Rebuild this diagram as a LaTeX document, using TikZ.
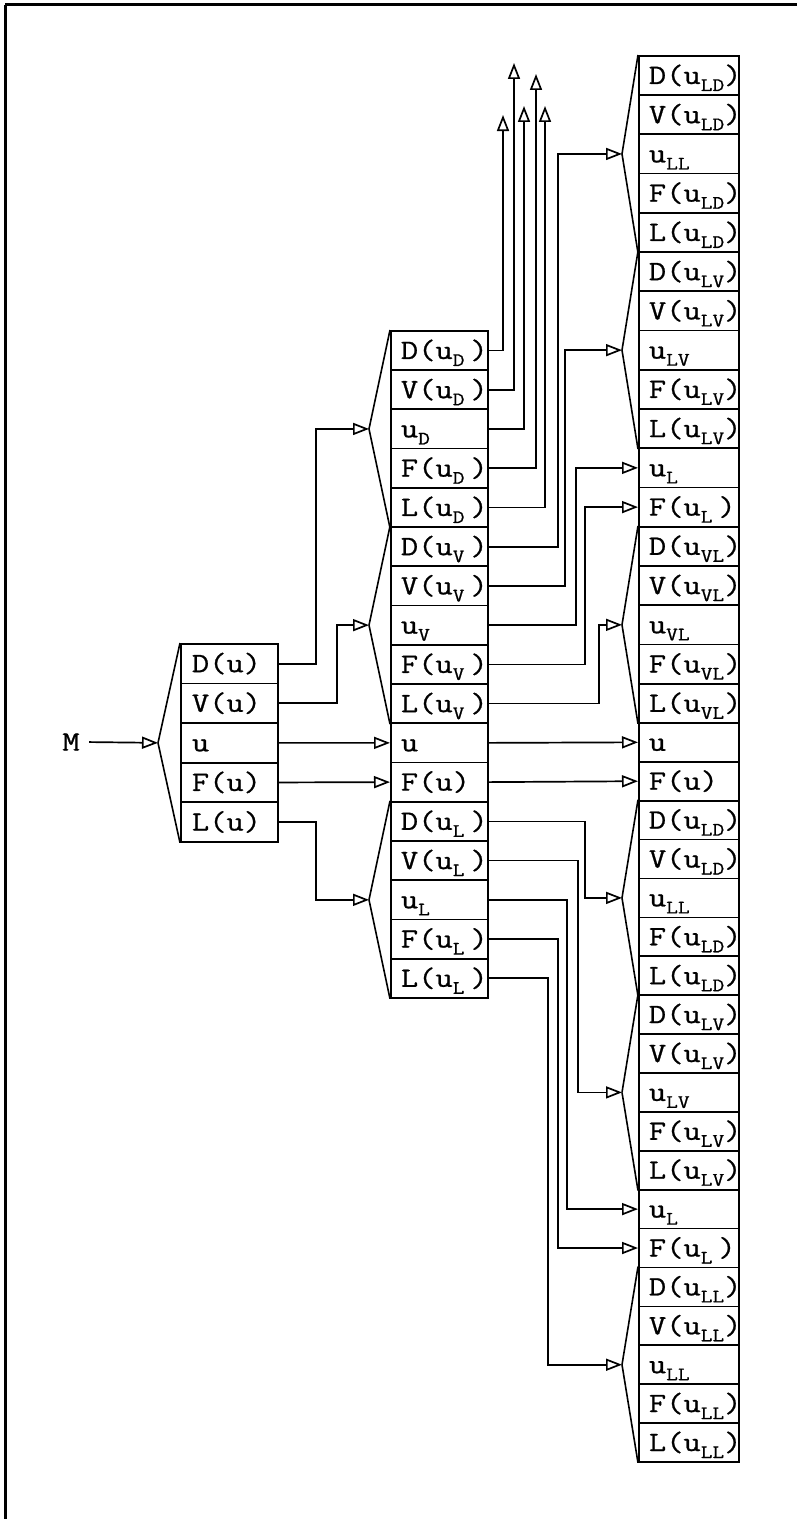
\documentclass[tikz,border=0pt]{standalone}
\usepackage{fontspec}
\newfontfamily\typew[FakeStretch=1.2,FakeBold=0.8]{Latin Modern Mono}
\usetikzlibrary{arrows.meta}
\newcommand\sbs[1]{\raisebox{-7bp}{\fontsize{19bp}{19bp}\selectfont #1}}
\newcommand\gap{\kern6bp}
\begin{document}
\begin{tikzpicture}[x=1bp,y=-1bp,
  every node/.style={font=\typew\fontsize{28bp}{28bp}\selectfont},
  rowbox/.style={draw, line width=1.7bp, rectangle, anchor=north west,
    inner ysep=0pt, text height=17bp, text depth=0bp, align=left},
  colone/.style={rowbox, minimum width=97bp, minimum height=39.6bp, text width=75bp, inner xsep=11bp},
  coltwo/.style={rowbox, minimum width=97bp, minimum height=39.24bp, text width=77bp, inner xsep=10bp},
  colthree/.style={rowbox, minimum width=100bp, minimum height=39.1bp, text width=80bp, inner xsep=10bp},
  arr/.style={-{Triangle[open,length=16bp,width=12bp]}, line width=1.7bp},
  fan/.style={line width=1.6bp},
  frame/.style={line width=3bp}]
\useasboundingbox (0,0) rectangle (797,1519);
\draw[frame] (5,5) -- (797,5);
\draw[frame] (5,5) -- (5,1519);

% column 1
\foreach \t [count=\i from 0] in {D(u),V(u),u,F(u),L(u)}
  \node[colone] (a\i) at (180,{643+\i*39.6}) {\t};

% column 2
\foreach \t [count=\i from 0] in {
  {D(u\sbs{D}\gap)},{V(u\sbs{D}\gap)},{u\sbs{D}},{F(u\sbs{D}\gap)},{L(u\sbs{D}\gap)},
  {D(u\sbs{V}\gap)},{V(u\sbs{V}\gap)},{u\sbs{V}},{F(u\sbs{V}\gap)},{L(u\sbs{V}\gap)},
  u,F(u),
  {D(u\sbs{L}\gap)},{V(u\sbs{L}\gap)},{u\sbs{L}},{F(u\sbs{L}\gap)},{L(u\sbs{L}\gap)}}
  \node[coltwo] (b\i) at (390,{330+\i*39.24}) {\t};

% column 3, upper part
\foreach \t [count=\i from 0] in {
  {D(u\sbs{LD})},{V(u\sbs{LD})},{u\sbs{LL}},{F(u\sbs{LD})},{L(u\sbs{LD})},
  {D(u\sbs{LV})},{V(u\sbs{LV})},{u\sbs{LV}},{F(u\sbs{LV})},{L(u\sbs{LV})},
  {u\sbs{L}},{F(u\sbs{L}\gap)},
  {D(u\sbs{VL})},{V(u\sbs{VL})},{u\sbs{VL}},{F(u\sbs{VL})},{L(u\sbs{VL})}}
  \node[colthree, minimum height=39.24bp] (c\i) at (638,{55+\i*39.24}) {\t};
% column 3, lower part
\foreach \t [count=\i from 17] in {
  u,F(u),
  {D(u\sbs{LD})},{V(u\sbs{LD})},{u\sbs{LL}},{F(u\sbs{LD})},{L(u\sbs{LD})},
  {D(u\sbs{LV})},{V(u\sbs{LV})},{u\sbs{LV}},{F(u\sbs{LV})},{L(u\sbs{LV})},
  {u\sbs{L}},{F(u\sbs{L}\gap)},
  {D(u\sbs{LL})},{V(u\sbs{LL})},{u\sbs{LL}},{F(u\sbs{LL})},{L(u\sbs{LL})}}
  \node[colthree, minimum height=38.9bp] (c\i) at (638,{722+(\i-17)*38.9}) {\t};

% input
\node (M) at (71,742) {M};
\coordinate (t1) at ([xshift=-22bp]a2.west);
\draw[arr, shorten <=6bp] (M.east) -- (t1);
\draw[fan] (t1) -- (a0.north west);
\draw[fan] (t1) -- (a4.south west);

% fan tips of column 2
\coordinate (tD) at ([xshift=-21bp]b2.west);
\coordinate (tV) at ([xshift=-21bp]b7.west);
\coordinate (tL) at ([xshift=-21bp]b14.west);
\foreach \p/\f/\l in {tD/0/4, tV/5/9, tL/12/16} {
  \draw[fan] (\p) -- (b\f.north west);
  \draw[fan] (\p) -- (b\l.south west);
}

% fan tips of column 3
\coordinate (sA) at ([xshift=-16bp]c2.west);
\coordinate (sB) at ([xshift=-16bp]c7.west);
\coordinate (sC) at ([xshift=-16bp]c14.west);
\coordinate (sD) at ([xshift=-16bp]c21.west);
\coordinate (sE) at ([xshift=-16bp]c26.west);
\coordinate (sF) at ([xshift=-16bp]c33.west);
\foreach \p/\f/\l in {sA/0/4, sB/5/9, sC/12/16, sD/19/23, sE/24/28, sF/31/35} {
  \draw[fan] (\p) -- (c\f.north west);
  \draw[fan] (\p) -- (c\l.south west);
}

% column 1 -> column 2
\draw[arr] (a0.east) -- ++(37,0) |- (tD);
\draw[arr] (a1.east) -- ++(58,0) |- (tV);
\draw[arr] (a2.east) -- (b10.west);
\draw[arr] (a3.east) -- (b11.west);
\draw[arr] (a4.east) -- ++(37,0) |- (tL);

% upward outputs
\coordinate (up0) at (503,115);
\coordinate (up1) at (514,63);
\coordinate (up2) at (524,106);
\coordinate (up3) at (536,74);
\coordinate (up4) at (545,106);
\foreach \i in {0,...,4}
  \draw[arr] (b\i.east) -| (up\i);

% column 2 -> column 3
\draw[arr] (b5.east) -- ++(69,0) |- (sA);
\draw[arr] (b6.east) -- ++(76,0) |- (sB);
\draw[arr] (b7.east) -- ++(87,0) |- (c10.west);
\draw[arr] (b8.east) -- ++(96,0) |- (c11.west);
\draw[arr] (b9.east) -- ++(110,0) |- (sC);
\draw[arr] (b10.east) -- (c17.west);
\draw[arr] (b11.east) -- (c18.west);
\draw[arr] (b12.east) -- ++(96,0) |- (sD);
\draw[arr] (b13.east) -- ++(89,0) |- (sE);
\draw[arr] (b14.east) -- ++(78,0) |- (c29.west);
\draw[arr] (b15.east) -- ++(69,0) |- (c30.west);
\draw[arr] (b16.east) -- ++(59,0) |- (sF);
\end{tikzpicture}
\end{document}
